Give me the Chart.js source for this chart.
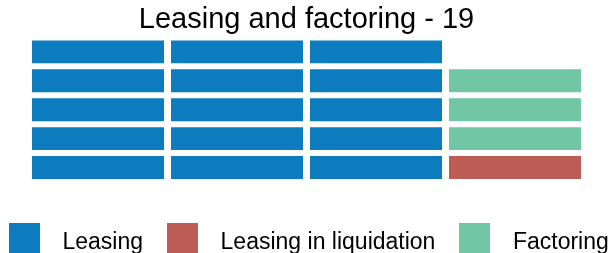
<!DOCTYPE html>
<html>
<head>
<meta charset="utf-8">
<script src="https://cdn.jsdelivr.net/npm/chart.js@4"></script>
<style>
  html, body { margin: 0; padding: 0; background: #fff; }
  #wrap { position: relative; width: 610px; height: 253px; overflow: hidden; }
  #legend { position: absolute; left: 9px; top: 223px; display: flex; align-items: flex-start;
    font-family: "Liberation Sans", Arial, sans-serif; font-size: 23px; line-height: 36px; color: #000; white-space: nowrap; }
  .box { width: 31px; height: 32px; margin-right: 22.5px; }
  .item { display: flex; align-items: flex-start; margin-right: 24px; }
</style>
</head>
<body>
<div id="wrap">
  <canvas id="c" width="610" height="253"></canvas>
  <div id="legend"></div>
</div>
<script>
const title = "Leasing and factoring - 19";
const categories = ["Leasing", "Leasing in liquidation", "Factoring"];
const counts = [15, 1, 3];
const colors = ["#0c7cbf", "#bd5b55", "#71c6a6"];
const nCols = 4;
const nRows = 5;

// build cell sequence (column-wise, bottom-up)
const seq = [];
categories.forEach((c, i) => { for (let k = 0; k < counts[i]; k++) seq.push(i); });

const colLabels = Array.from({length: nCols}, (_, i) => String(i + 1));
const datasets = [];
for (let r = 0; r < nRows; r++) {
  const data = [], bg = [];
  for (let c = 0; c < nCols; c++) {
    const idx = c * nRows + r;
    if (idx < seq.length) { data.push(1); bg.push(colors[seq[idx]]); }
    else { data.push(null); bg.push('rgba(0,0,0,0)'); }
  }
  datasets.push({
    label: 'row' + r, data, backgroundColor: bg,
    borderColor: '#ffffff', borderWidth: {top: 3, bottom: 3, left: 0, right: 0},
    borderSkipped: false, barPercentage: 132 / 139, categoryPercentage: 1
  });
}

new Chart(document.getElementById('c'), {
  type: 'bar',
  data: { labels: colLabels, datasets },
  options: {
    responsive: false, animation: false,
    layout: { padding: { left: 28.5, right: 25.5, top: 0, bottom: 71 } },
    scales: {
      x: { display: false, stacked: true },
      y: { display: false, stacked: true, min: 0, max: nRows }
    },
    plugins: {
      legend: { display: false },
      tooltip: { enabled: false },
      title: {
        display: true, text: title, color: '#000',
        font: { family: '"Liberation Sans", Arial, sans-serif', size: 29, weight: 'normal', lineHeight: 1.2 },
        padding: { top: 2.6, bottom: 0 }
      }
    }
  }
});

const legend = document.getElementById('legend');
categories.forEach((c, i) => {
  const item = document.createElement('div');
  item.className = 'item';
  const box = document.createElement('div');
  box.className = 'box';
  box.style.background = colors[i];
  const t = document.createElement('span');
  t.textContent = c;
  item.appendChild(box); item.appendChild(t);
  legend.appendChild(item);
});
</script>
</body>
</html>
